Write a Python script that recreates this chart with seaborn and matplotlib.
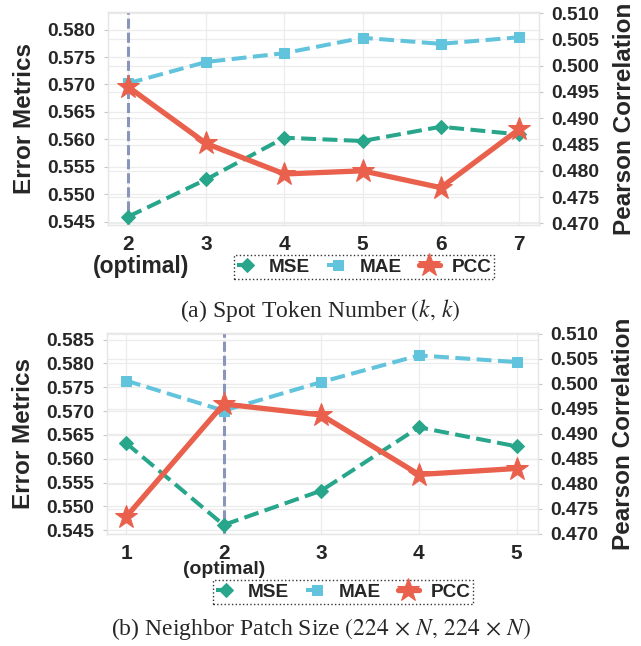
import matplotlib
matplotlib.use("Agg")
import matplotlib.pyplot as plt
import matplotlib.transforms as mtransforms
import seaborn as sns

# (a) spot token number
k_vals = [2, 3, 4, 5, 6, 7]
mse_a = [0.5459, 0.5527, 0.5603, 0.5597, 0.5623, 0.5609]
mae_a = [0.5702, 0.5741, 0.5757, 0.5785, 0.5774, 0.5786]
pcc_a = [0.4960, 0.4852, 0.4794, 0.4800, 0.4768, 0.4879]

# (b) neighbor patch size
n_vals = [1, 2, 3, 4, 5]
mse_b = [0.5633, 0.5461, 0.5533, 0.5666, 0.5626]
mae_b = [0.5764, 0.5701, 0.5761, 0.5817, 0.5803]
pcc_b = [0.4733, 0.4959, 0.4937, 0.4818, 0.4830]

left_ticks_a = [0.545, 0.550, 0.555, 0.560, 0.565, 0.570, 0.575, 0.580]
left_ticks_b = [0.545, 0.550, 0.555, 0.560, 0.565, 0.570, 0.575, 0.580, 0.585]
right_ticks = [0.470, 0.475, 0.480, 0.485, 0.490, 0.495, 0.500, 0.505, 0.510]

C_MSE = "#27a68b"
C_MAE = "#62c3dc"
C_PCC = "#e9604c"
C_OPT = "#8a96b9"
GRID = "#ececec"

sns.set_style("whitegrid")
plt.rcParams["font.family"] = ["Liberation Sans", "DejaVu Sans"]
plt.rcParams["mathtext.fontset"] = "stix"

fig = plt.figure(figsize=(6.41, 6.46), dpi=100)


def panel(rect, xs, mse, mae, pcc, lticks, lylim, rylim, xlim, opt_x, opt_y, opt_size,
          leg_center):
    ax = fig.add_axes(rect)
    ax2 = ax.twinx()
    dash = (0, (3.7, 1.6))
    sns.lineplot(x=xs, y=mse, ax=ax, color=C_MSE, marker="D", markersize=7,
                 markeredgecolor=C_MSE, linewidth=2.9, linestyle=dash,
                 label="MSE", legend=False)
    sns.lineplot(x=xs, y=mae, ax=ax, color=C_MAE, marker="s", markersize=7.5,
                 markeredgecolor=C_MAE, linewidth=2.9, linestyle=dash,
                 label="MAE", legend=False)
    sns.lineplot(x=xs, y=pcc, ax=ax2, color=C_PCC, marker="*", markersize=17,
                 markeredgecolor=C_PCC, linewidth=3.8, label="PCC", legend=False)
    ax.axvline(2, color=C_OPT, linewidth=2.2, linestyle=(0, (3.3, 1.3)), zorder=1)

    ax.set_xlim(*xlim)
    ax.set_ylim(*lylim)
    ax2.set_ylim(*rylim)
    ax.set_xticks(xs)
    ax.set_xticklabels([str(v) for v in xs], fontsize=15, fontweight="bold")
    ax.set_yticks(lticks)
    ax.set_yticklabels([f"{v:.3f}" for v in lticks], fontsize=13.8, fontweight="bold")
    ax2.set_yticks(right_ticks)
    ax2.set_yticklabels([f"{v:.3f}" for v in right_ticks], fontsize=13.8,
                        fontweight="bold")
    ax.tick_params(axis="x", length=0, pad=7)
    ax.tick_params(axis="y", length=3, color="#c8c8c8", pad=6)
    ax2.tick_params(axis="y", length=3, color="#c8c8c8", pad=6)
    ax.set_ylabel("Error Metrics", fontsize=17.5, fontweight="bold", labelpad=8)
    ax2.set_ylabel("Pearson Correlation", fontsize=17.5, fontweight="bold",
                   labelpad=10)
    ax.grid(True, color=GRID, linewidth=0.9)
    ax2.grid(False)
    # right axis grid drawn underneath the data
    tr = mtransforms.blended_transform_factory(ax.transAxes, ax2.transData)
    for v in right_ticks:
        ax.plot([0, 1], [v, v], transform=tr, color=GRID, linewidth=0.9, zorder=0.5)
    for a in (ax, ax2):
        for s in a.spines.values():
            s.set_color("#e6e6e6")
            s.set_linewidth(0.9)

    tro = mtransforms.blended_transform_factory(ax.transData, ax.transAxes)
    ax.text(opt_x, opt_y, "(optimal)", transform=tro, ha="center", va="center",
            fontsize=opt_size, fontweight="bold")

    h1, l1 = ax.get_legend_handles_labels()
    h2, l2 = ax2.get_legend_handles_labels()
    leg = ax2.legend(h1 + h2, l1 + l2, ncol=3, loc="center",
                     bbox_to_anchor=leg_center, bbox_transform=fig.transFigure,
                     fontsize=13.7, handlelength=1.1, handletextpad=0.6,
                     columnspacing=0.9, borderpad=0.15, borderaxespad=0,
                     fancybox=False, framealpha=1)
    fr = leg.get_frame()
    fr.set_edgecolor("#333333")
    fr.set_linestyle(":")
    fr.set_linewidth(1.0)
    for t in leg.get_texts():
        t.set_fontweight("bold")
    return ax, ax2


panel([108 / 641, 1 - 225 / 646, 431 / 641, 213 / 646], k_vals, mse_a, mae_a, pcc_a,
      left_ticks_a, (0.5444, 0.5832), (0.4697, 0.5102), (1.745, 7.255),
      2.17, -0.1925, 16.5, (364 / 641, 1 - 267 / 646))
panel([107 / 641, 1 - 534 / 646, 431 / 641, 201 / 646], n_vals, mse_b, mae_b, pcc_b,
      left_ticks_b, (0.5442, 0.5864), (0.4699, 0.5101), (0.805, 5.22),
      2.0, -0.179, 14, (343 / 641, 1 - 592 / 646))

fig.text(320 / 641, 1 - 310 / 646, r"(a) Spot Token Number $(k,\, k)$",
         family="Liberation Serif", fontweight="normal", fontsize=17,
         ha="center", va="center")
fig.text(321 / 641, 1 - 629 / 646,
         r"(b) Neighbor Patch Size $(224 \,\times\, N,\, 224 \,\times\, N)$",
         family="Liberation Serif", fontweight="normal", fontsize=17,
         ha="center", va="center")

fig.savefig("out.png", dpi=100)
